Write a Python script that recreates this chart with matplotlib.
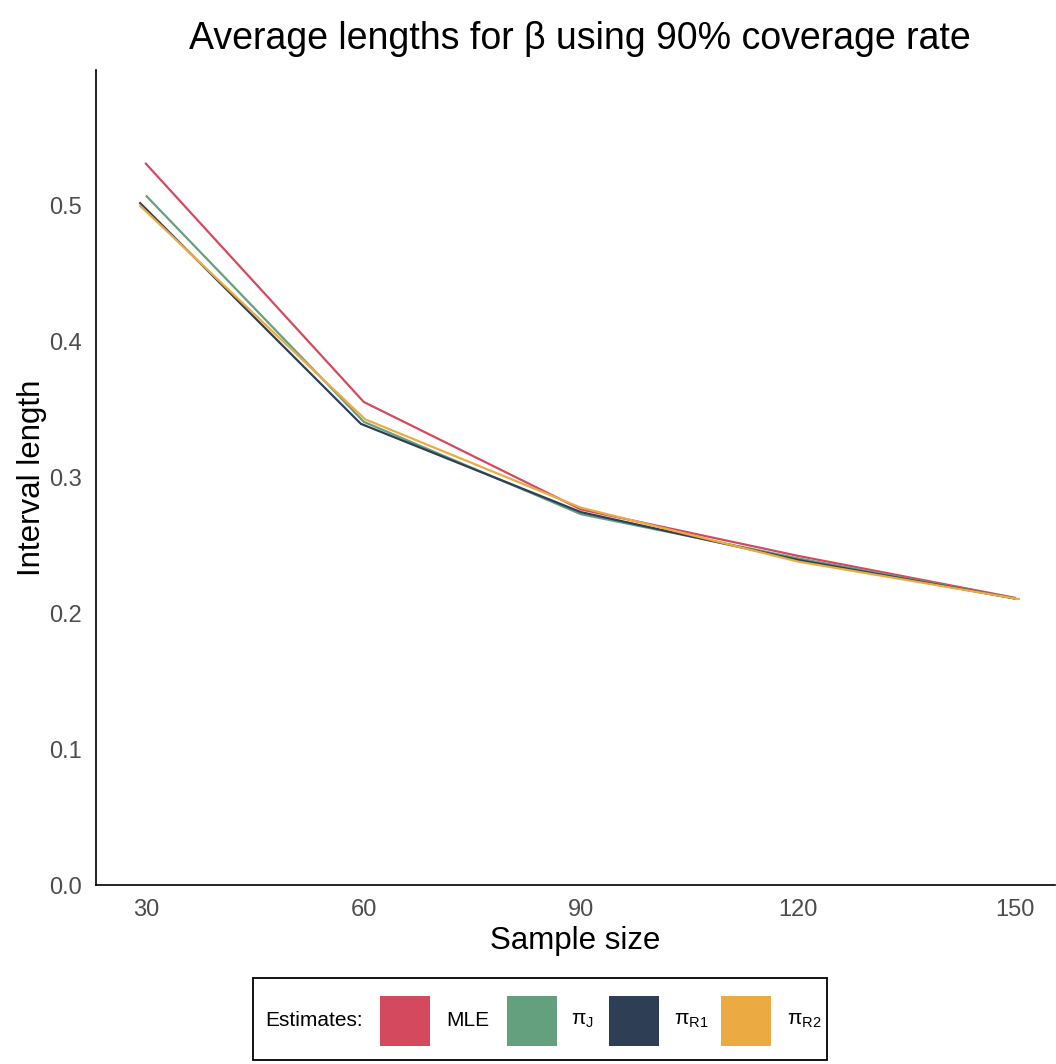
import matplotlib
matplotlib.use("Agg")
import matplotlib.pyplot as plt
from matplotlib.patches import Rectangle

plt.rcParams['font.family'] = ['Liberation Sans', 'DejaVu Sans']
plt.rcParams['mathtext.fontset'] = 'custom'
plt.rcParams['mathtext.rm'] = 'Liberation Sans'
plt.rcParams['mathtext.it'] = 'Liberation Sans'

# Data
series_names = ["MLE", "π$_\\mathregular{J}$", "π$_\\mathregular{R1}$", "π$_\\mathregular{R2}$"]
colors = ["#D4495E", "#65A07E", "#2E3F55", "#ECAB42"]
x_mle = [29.9, 60.0, 90.0, 120.0, 149.9]
y_mle = [0.531, 0.3556, 0.2765, 0.2423, 0.2115]
x_pij = [30.0, 60.0, 90.0, 120.0, 149.9]
y_pij = [0.507, 0.341, 0.2730, 0.2405, 0.2110]
x_pir1 = [29.1, 59.6, 90.0, 120.0, 149.9]
y_pir1 = [0.502, 0.3395, 0.2745, 0.2393, 0.2110]
x_pir2 = [29.1, 60.2, 90.0, 120.0, 150.5]
y_pir2 = [0.500, 0.3428, 0.2778, 0.2381, 0.2105]
xticks = [30, 60, 90, 120, 150]
yticks = [0.0, 0.1, 0.2, 0.3, 0.4, 0.5]

W, H = 1056, 1064
fig = plt.figure(figsize=(W/100, H/100), dpi=100)
ax = fig.add_axes([96/W, 1-885/H, (1055-96)/W, (885-70)/H])

for xs, ys, c in zip([x_mle, x_pij, x_pir1, x_pir2],
                     [y_mle, y_pij, y_pir1, y_pir2], colors):
    ax.plot(xs, ys, color=c, lw=1.6, solid_joinstyle='miter')

ax.set_xlim(23.0, 155.5)
ax.set_ylim(0.0, 0.6)
ax.set_xticks(xticks)
ax.set_xticklabels([str(t) for t in xticks])
ax.set_yticks(yticks)
ax.set_yticklabels([f"{t:.1f}" for t in yticks])
ax.tick_params(length=0, labelsize=17, labelcolor="#4D4D4D")
ax.tick_params(axis='x', pad=10)
ax.tick_params(axis='y', pad=10)
for s in ["top", "right"]:
    ax.spines[s].set_visible(False)
for s in ["left", "bottom"]:
    ax.spines[s].set_linewidth(1.2)
    ax.spines[s].set_color("black")

ax.set_xlabel("Sample size", fontsize=22.5, labelpad=4)
ax.set_ylabel("Interval length", fontsize=22.5, labelpad=2)
fig.text(580/W, 1-39/H, "Average lengths for β using 90% coverage rate",
         ha="center", va="center", fontsize=27)

# Legend (built manually to match horizontal title layout)
fig.patches.append(Rectangle((253/W, 1-1060/H), (827-253)/W, (1060-978)/H,
                             transform=fig.transFigure, fill=False,
                             edgecolor="black", lw=1.3))
yc = 1021
fig.text(265/W, 1-yc/H, "Estimates:", ha="left", va="center", fontsize=15)
key_left = [380, 507, 609, 721]
label_left = [446, 571, 674, 787]
for kl, ll, c, name in zip(key_left, label_left, colors, series_names):
    fig.patches.append(Rectangle((kl/W, 1-(yc+25)/H), 50/W, 50/H,
                                 transform=fig.transFigure, facecolor=c,
                                 edgecolor="none"))
    fig.text(ll/W, 1-yc/H, name, ha="left", va="center", fontsize=15)

fig.savefig("out.png", dpi=100)
